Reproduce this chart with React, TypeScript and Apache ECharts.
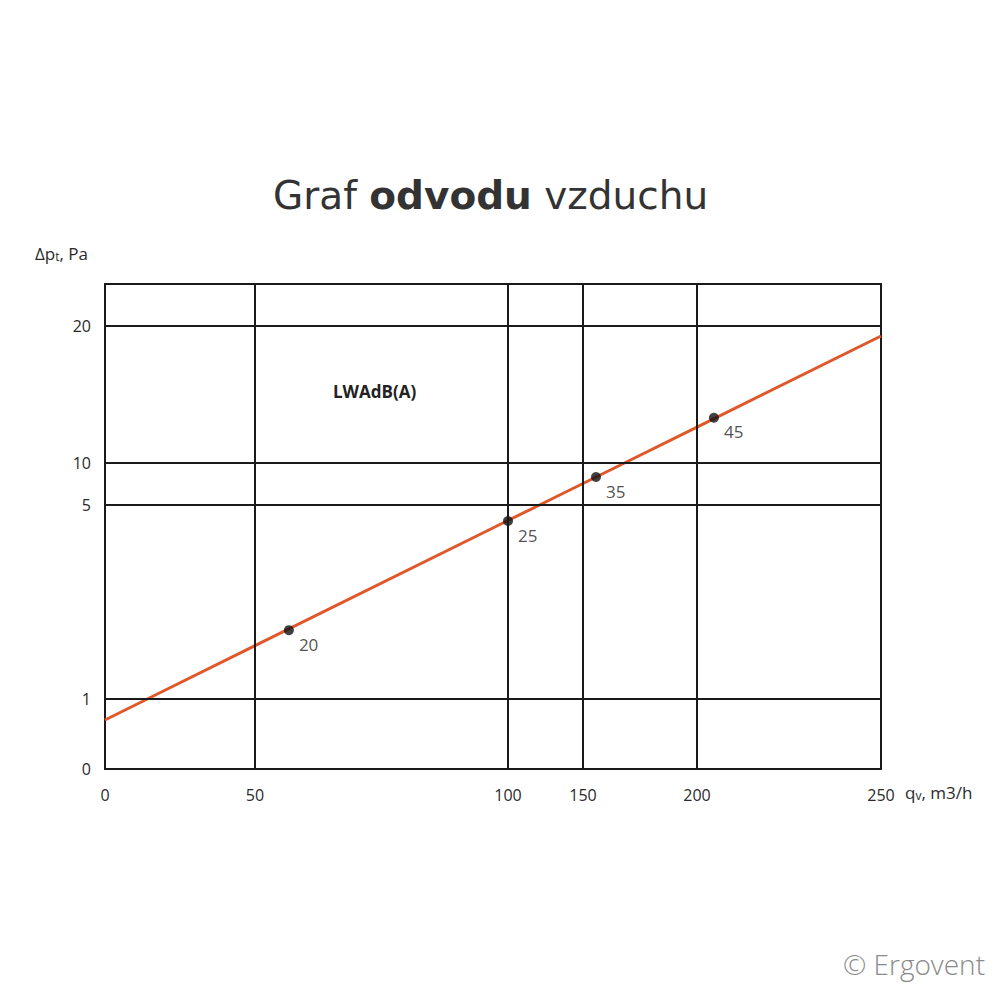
import React, { useEffect, useRef } from "react";
import * as echarts from "echarts";

// Axis definition (the drawing uses an irregular, piecewise scale)
const xTicks = [0, 50, 100, 150, 200, 250];
const xTickPos = [0, 150, 403, 478, 592, 776];
const yTicks = [0, 1, 5, 10, 20];
const yTickPos = [0, 70, 264, 306, 443];
const yTopPos = 485;

// Characteristic line: flow qv (m3/h) vs pressure drop Δpt (Pa)
const lineQ = [0, 14.1, 50, 100, 121, 150, 168.2, 200, 250];
const lineP = [0.7, 1, 2.1, 4.68, 5, 7.56, 10, 12.62, 19.27];

// Marked operating points and their sound power level LWAdB(A)
const pointQ = [56.7, 100, 155.7, 204.6];
const pointP = [2.42, 4.67, 8.33, 13.3];
const pointLw = ["20", "25", "35", "45"];

function mapPiecewise(v: number, vals: number[], pos: number[]) {
  for (let i = 0; i < vals.length - 1; i++) {
    if (v <= vals[i + 1] || i === vals.length - 2) {
      const t = (v - vals[i]) / (vals[i + 1] - vals[i]);
      return pos[i] + t * (pos[i + 1] - pos[i]);
    }
  }
  return pos[0];
}
const mx = (v: number) => mapPiecewise(v, xTicks, xTickPos);
const my = (v: number) => mapPiecewise(v, yTicks, yTickPos);

const FONT = "'Open Sans', 'DejaVu Sans', sans-serif";
const TITLE_FONT = "'DejaVu Sans', 'Open Sans', sans-serif";

export default function App() {
  const ref = useRef<HTMLDivElement>(null);
  useEffect(() => {
    document.body.style.margin = "0";
    const chart = echarts.init(ref.current!, null, { renderer: "svg" });
    const gridLineStyle = { color: "#1a1a1a", width: 2, type: "solid" as const };
    const option = {
      animation: false,
      backgroundColor: "#ffffff",
      textStyle: { fontFamily: FONT },
      title: {
        text: "{n|Graf }{b|odvodu}{n| vzduchu}",
        left: 268,
        top: 171,
        textStyle: {
          rich: {
            n: { fontFamily: TITLE_FONT, fontSize: 39, fontWeight: 400, color: "#333333" },
            b: { fontFamily: TITLE_FONT, fontSize: 39, fontWeight: 700, color: "#333333" },
          },
        },
      },
      grid: {
        left: 105,
        top: 284,
        width: 776,
        height: 485,
        show: true,
        borderColor: "#1a1a1a",
        borderWidth: 2,
        backgroundColor: "transparent",
      },
      xAxis: {
        type: "value",
        min: 0,
        max: xTickPos[xTickPos.length - 1],
        axisLine: { show: false },
        axisTick: { show: false },
        splitLine: { show: false },
        axisLabel: {
          customValues: xTickPos,
          formatter: (v: number) => {
            const i = xTickPos.indexOf(v);
            return i >= 0 ? String(xTicks[i]) : "";
          },
          margin: 18,
          fontSize: 16,
          color: "#2a2a2a",
          fontFamily: FONT,
        },
      },
      yAxis: {
        type: "value",
        min: 0,
        max: yTopPos,
        axisLine: { show: false },
        axisTick: { show: false },
        splitLine: { show: false },
        axisLabel: {
          customValues: yTickPos,
          formatter: (v: number) => {
            const i = yTickPos.indexOf(v);
            return i >= 0 ? String(yTicks[i]) : "";
          },
          margin: 14,
          fontSize: 16,
          color: "#2a2a2a",
          fontFamily: FONT,
        },
      },
      series: [
        {
          type: "line",
          data: [],
          silent: true,
          markLine: {
            silent: true,
            symbol: "none",
            label: { show: false },
            lineStyle: gridLineStyle,
            data: [
              ...xTicks.slice(1, -1).map((v) => ({ xAxis: mx(v) })),
              ...yTicks.slice(1).map((v) => ({ yAxis: my(v) })),
            ],
          },
        },
        {
          type: "line",
          data: lineQ.map((q, i) => [mx(q), my(lineP[i])]),
          showSymbol: false,
          lineStyle: { color: "#e0582a", width: 3 },
          z: 3,
        },
        {
          type: "scatter",
          data: pointQ.map((q, i) => [mx(q), my(pointP[i]), pointLw[i]]),
          symbolSize: 10,
          itemStyle: { color: "#111111" },
          z: 4,
          label: {
            show: true,
            position: "right",
            offset: [0, 14],
            formatter: (p: any) => p.value[2],
            fontSize: 17,
            color: "#222222",
            fontFamily: FONT,
          },
        },
      ],
      graphic: [
        {
          type: "text",
          left: 35,
          top: 245,
          style: {
            text: "Δp{s|t}, Pa",
            fontSize: 17,
            fontFamily: FONT,
            fill: "#2a2a2a",
            rich: { s: { fontSize: 12, fontFamily: FONT, fill: "#2a2a2a", padding: [5, 0, 0, 0] } },
          },
        },
        {
          type: "text",
          left: 905,
          top: 784,
          style: {
            text: "q{s|v}, m3/h",
            fontSize: 17,
            fontFamily: FONT,
            fill: "#2a2a2a",
            rich: { s: { fontSize: 12, fontFamily: FONT, fill: "#2a2a2a", padding: [5, 0, 0, 0] } },
          },
        },
        {
          type: "text",
          left: 333,
          top: 383,
          style: {
            text: "LWAdB(A)",
            fontSize: 17,
            fontWeight: 700,
            fontFamily: FONT,
            fill: "#222222",
          },
        },
        {
          type: "text",
          right: 15,
          top: 950,
          style: {
            text: "© Ergovent",
            fontSize: 28,
            fontWeight: 300,
            fontFamily: FONT,
            fill: "#8a8a8a",
          },
        },
      ],
    };
    chart.setOption(option as any);
    return () => chart.dispose();
  }, []);
  return <div ref={ref} style={{ width: 1000, height: 1000 }} />;
}
